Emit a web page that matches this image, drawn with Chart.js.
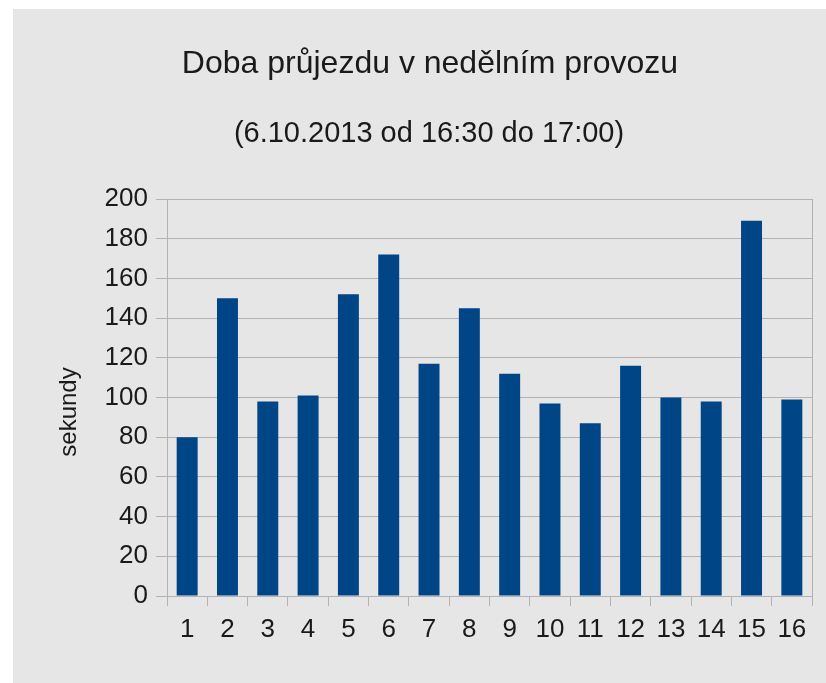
<!DOCTYPE html>
<html>
<head>
<meta charset="utf-8">
<script src="https://cdn.jsdelivr.net/npm/chart.js@4/dist/chart.umd.min.js"></script>
<style>
  html, body { margin: 0; padding: 0; background: #ffffff; overflow: hidden; }
  canvas { display: block; }
</style>
</head>
<body>
<canvas id="c" width="826" height="683"></canvas>
<script>
const categories = ['1','2','3','4','5','6','7','8','9','10','11','12','13','14','15','16'];
const seconds = [80, 150, 98, 101, 152, 172, 117, 145, 112, 97, 87, 116, 100, 98, 189, 99];
const yTicks = [0, 20, 40, 60, 80, 100, 120, 140, 160, 180, 200];
const titleText = 'Doba průjezdu v nedělním provozu';
const subtitleText = '(6.10.2013 od 16:30 do 17:00)';
const yAxisTitle = 'sekundy';

const FONT = '"Liberation Sans", Arial, sans-serif';
const TEXT = '#1a1a1a';
const GRID = '#b3b3b3';

const decor = {
  id: 'decor',
  beforeDraw(chart) {
    const ctx = chart.ctx;
    ctx.save();
    ctx.fillStyle = '#ffffff';
    ctx.fillRect(0, 0, chart.width, chart.height);
    ctx.fillStyle = '#e6e6e6';
    ctx.fillRect(13, 9, chart.width - 13, chart.height - 9);
    ctx.restore();
  },
  beforeDatasetsDraw(chart) {
    const ctx = chart.ctx;
    const a = chart.chartArea;
    ctx.save();
    ctx.strokeStyle = GRID;
    ctx.lineWidth = 1;
    ctx.beginPath();
    ctx.moveTo(Math.round(a.right) + 0.5, a.top);
    ctx.lineTo(Math.round(a.right) + 0.5, a.bottom);
    ctx.stroke();
    ctx.restore();
  },
  afterDraw(chart) {
    const ctx = chart.ctx;
    ctx.save();
    ctx.fillStyle = TEXT;
    ctx.textAlign = 'center';
    ctx.textBaseline = 'alphabetic';
    ctx.font = '32px ' + FONT;
    ctx.fillText(titleText, 430, 73);
    ctx.font = '29px ' + FONT;
    ctx.fillText(subtitleText, 429, 142);
    ctx.translate(76, 412);
    ctx.rotate(-Math.PI / 2);
    ctx.font = '24px ' + FONT;
    ctx.fillText(yAxisTitle, 0, 0);
    ctx.restore();
  }
};

new Chart(document.getElementById('c'), {
  type: 'bar',
  data: {
    labels: categories,
    datasets: [{
      data: seconds,
      backgroundColor: '#004586',
      borderWidth: 0,
      categoryPercentage: 1.0,
      barPercentage: 0.52
    }]
  },
  options: {
    responsive: false,
    animation: false,
    devicePixelRatio: 1,
    layout: { padding: { top: 199, right: 14, bottom: 0, left: 0 } },
    plugins: {
      legend: { display: false },
      tooltip: { enabled: false },
      title: { display: false }
    },
    scales: {
      x: {
        grid: {
          offset: true,
          drawOnChartArea: false,
          drawTicks: true,
          tickLength: 10,
          color: GRID,
          lineWidth: 1
        },
        border: { display: true, color: GRID, width: 1 },
        ticks: {
          color: TEXT,
          font: { family: FONT, size: 26 },
          padding: 8,
          maxRotation: 0,
          autoSkip: false
        },
        afterFit(scale) { scale.height = 87; }
      },
      y: {
        min: 0,
        max: 200,
        afterBuildTicks(scale) { scale.ticks = yTicks.map(v => ({ value: v })); },
        grid: {
          color: GRID,
          lineWidth: 1,
          drawTicks: true,
          tickLength: 11
        },
        border: { display: true, color: GRID, width: 1 },
        ticks: {
          color: TEXT,
          font: { family: FONT, size: 26 },
          padding: 8
        },
        afterFit(scale) { scale.width = 167; }
      }
    }
  },
  plugins: [decor]
});
</script>
</body>
</html>
